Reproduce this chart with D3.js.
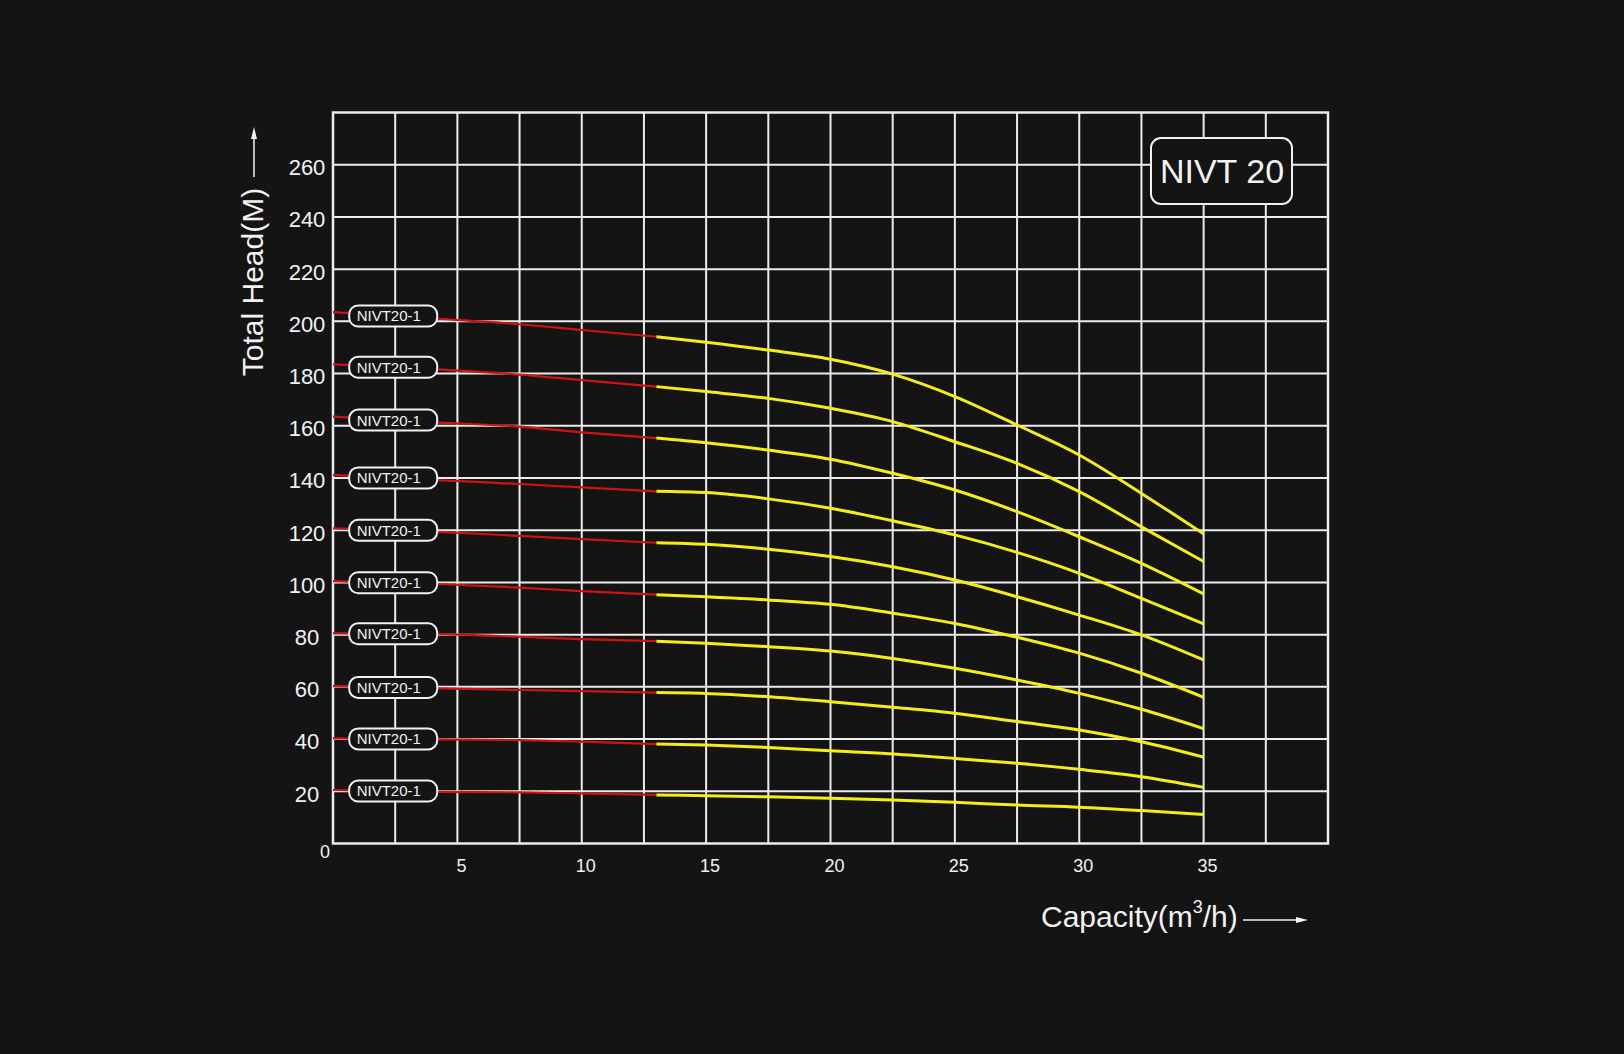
<!DOCTYPE html>
<html>
<head>
<meta charset="utf-8">
<script src="https://cdn.jsdelivr.net/npm/d3@7"></script>
<style>
  html, body { margin: 0; padding: 0; background: #141414; }
  svg { display: block; }
  text { font-family: "Liberation Sans", Arial, sans-serif; fill: #f2f2f2; }
</style>
</head>
<body>
<svg id="chart" width="1624" height="1054"></svg>
<script>
// ---- data ----
const chartTitle = "NIVT 20";
const curveLabels = ["NIVT20-1","NIVT20-1","NIVT20-1","NIVT20-1","NIVT20-1","NIVT20-1","NIVT20-1","NIVT20-1","NIVT20-1","NIVT20-1"];
const xTicks = [5, 10, 15, 20, 25, 30, 35];
const yTicks = [20, 40, 60, 80, 100, 120, 140, 160, 180, 200, 220, 240, 260];
const redCapacity = [0, 4.2, 7.5, 10, 13];
const yellowCapacity = [13, 15, 17.5, 20, 22.5, 25, 27.5, 30, 32.5, 35];
const redHead = [
  [203.5, 201.0, 198.9, 196.7, 194.1],
  [183.5, 181.6, 179.6, 177.5, 175.0],
  [163.5, 161.2, 159.7, 157.5, 155.3],
  [141.2, 139.2, 137.7, 136.4, 134.9],
  [120.7, 119.4, 117.8, 116.6, 115.2],
  [100.5, 99.4, 98.0, 96.7, 95.3],
  [80.5, 80.2, 79.2, 78.3, 77.5],
  [60.3, 59.4, 58.8, 58.4, 57.8],
  [40.3, 39.9, 39.6, 39.0, 38.1],
  [20.5, 19.8, 19.6, 19.2, 18.6]
];
const yellowHead = [
  [194.1, 192.0, 189.0, 185.5, 179.8, 171.2, 160.3, 148.8, 134.1, 118.6],
  [175.0, 173.1, 170.5, 166.7, 161.6, 153.9, 145.6, 134.8, 121.3, 108.0],
  [155.3, 153.5, 150.7, 147.2, 141.8, 135.4, 127.1, 117.5, 107.3, 95.6],
  [134.9, 134.4, 132.0, 128.4, 123.6, 118.2, 111.5, 103.5, 93.9, 84.1],
  [115.2, 114.6, 112.7, 109.9, 106.0, 100.9, 94.5, 87.5, 79.9, 70.3],
  [95.3, 94.5, 93.3, 91.6, 88.2, 84.3, 79.0, 72.9, 65.2, 56.0],
  [77.5, 76.7, 75.4, 73.7, 70.9, 67.1, 62.6, 57.5, 51.4, 44.0],
  [57.8, 57.5, 56.2, 54.3, 52.2, 49.9, 46.7, 43.5, 39.0, 33.1],
  [38.1, 37.7, 36.8, 35.5, 34.3, 32.6, 30.7, 28.4, 25.6, 21.5],
  [18.6, 18.3, 17.9, 17.3, 16.7, 15.8, 14.7, 13.9, 12.6, 11.1]
];
const labelCapacity = 2.42;

// ---- layout ----
const W = 1624, H = 1054;
const bg = "#141414", gridColor = "#ececec";
const x = d3.scaleLinear().domain([0, 40]).range([333, 1328]);
const y = d3.scaleLinear().domain([0, 280]).range([843.5, 112.5]);

const svg = d3.select("#chart");
svg.append("rect").attr("width", W).attr("height", H).attr("fill", bg);

// grid
const grid = svg.append("g");
grid.selectAll("line.v").data(d3.range(2.5, 40, 2.5)).join("line")
  .attr("x1", d => x(d)).attr("x2", d => x(d))
  .attr("y1", y(0)).attr("y2", y(280))
  .attr("stroke", gridColor).attr("stroke-width", 2);
grid.selectAll("line.h").data(d3.range(20, 280, 20)).join("line")
  .attr("x1", x(0)).attr("x2", x(40))
  .attr("y1", d => y(d)).attr("y2", d => y(d))
  .attr("stroke", gridColor).attr("stroke-width", 2);
grid.append("rect")
  .attr("x", x(0)).attr("y", y(280))
  .attr("width", x(40) - x(0)).attr("height", y(0) - y(280))
  .attr("fill", "none").attr("stroke", gridColor).attr("stroke-width", 2.5);

// axes labels
const yAxis = svg.append("g").call(d3.axisLeft(y).tickValues(yTicks).tickSize(0).tickPadding(0));
yAxis.select(".domain").remove();
yAxis.selectAll("text")
  .attr("x", 307).attr("dy", "0.38em").attr("transform", "translate(0,1.5)")
  .attr("text-anchor", "middle")
  .style("font-size", "22px").style("font-family", "'Liberation Sans', Arial, sans-serif").attr("fill", "#ededed");

const xAxis = svg.append("g").attr("transform", `translate(0,${y(0)})`)
  .call(d3.axisBottom(x).tickValues(xTicks).tickSize(0).tickPadding(0));
xAxis.select(".domain").remove();
xAxis.selectAll("text")
  .attr("y", 21.5).attr("dy", "0.38em").attr("transform", "translate(3.5,0)")
  .style("font-size", "18px").style("font-family", "'Liberation Sans', Arial, sans-serif").attr("fill", "#ededed");

svg.append("text").attr("x", 325).attr("y", 858).attr("text-anchor", "middle")
  .style("font-size", "18px").text("0");

// curves
const line = d3.line().x(d => x(d[0])).y(d => y(d[1])).curve(d3.curveMonotoneX);
const curves = svg.append("g");
redHead.forEach((row, i) => {
  curves.append("path")
    .attr("d", line(redCapacity.map((c, j) => [c, row[j]])))
    .attr("fill", "none").attr("stroke", "#d01212").attr("stroke-width", 2.2);
  curves.append("path")
    .attr("d", line(yellowCapacity.map((c, j) => [c, yellowHead[i][j]])))
    .attr("fill", "none").attr("stroke", "#f4ee14").attr("stroke-width", 3);
});

// curve labels
function headAt(row, c) {
  for (let j = 0; j < redCapacity.length - 1; j++) {
    if (c >= redCapacity[j] && c <= redCapacity[j + 1]) {
      const t = (c - redCapacity[j]) / (redCapacity[j + 1] - redCapacity[j]);
      return row[j] + t * (row[j + 1] - row[j]);
    }
  }
  return row[0];
}
const lbl = svg.append("g");
curveLabels.forEach((name, i) => {
  const cx = x(labelCapacity), cy = y(headAt(redHead[i], labelCapacity));
  lbl.append("rect")
    .attr("x", cx - 44).attr("y", cy - 10.5).attr("width", 88).attr("height", 21)
    .attr("rx", 9).attr("fill", bg).attr("stroke", "#f2f2f2").attr("stroke-width", 2);
  lbl.append("text").attr("x", cx - 36.5).attr("y", cy).attr("dy", "0.36em")
    .attr("text-anchor", "start").style("font-size", "15px").text(name);
});

// title box
svg.append("rect").attr("x", 1151).attr("y", 138).attr("width", 141).attr("height", 66)
  .attr("rx", 10).attr("fill", bg).attr("stroke", "#f2f2f2").attr("stroke-width", 2);
svg.append("text").attr("x", 1222).attr("y", 183).attr("text-anchor", "middle")
  .style("font-size", "34px").text(chartTitle);

// y axis title with arrow
svg.append("text").attr("transform", "translate(263,282) rotate(-90)")
  .attr("text-anchor", "middle").style("font-size", "30px").text("Total Head(M)");
svg.append("line").attr("x1", 254).attr("x2", 254).attr("y1", 177).attr("y2", 136)
  .attr("stroke", "#f2f2f2").attr("stroke-width", 1.5);
svg.append("path").attr("d", "M254,127 L251,139 L257,139 Z").attr("fill", "#f2f2f2");

// x axis title with arrow
const xt = svg.append("text").attr("x", 1041).attr("y", 927).style("font-size", "30px");
xt.append("tspan").text("Capacity(m");
xt.append("tspan").attr("dy", -14).style("font-size", "18px").text("3");
xt.append("tspan").attr("dy", 14).text("/h)");
svg.append("line").attr("x1", 1243).attr("x2", 1298).attr("y1", 920).attr("y2", 920)
  .attr("stroke", "#f2f2f2").attr("stroke-width", 1.5);
svg.append("path").attr("d", "M1308,920 L1296,917 L1296,923 Z").attr("fill", "#f2f2f2");
</script>
</body>
</html>
